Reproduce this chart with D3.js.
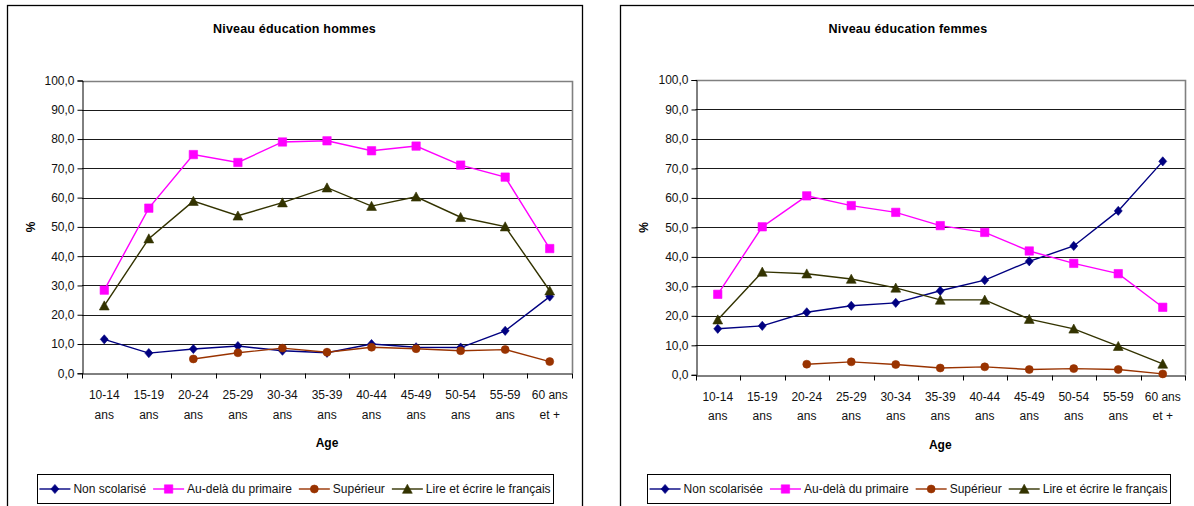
<!DOCTYPE html>
<html>
<head>
<meta charset="utf-8">
<script src="https://cdn.jsdelivr.net/npm/d3@7"></script>
<style>
  html, body { margin: 0; padding: 0; background: #fff; }
  svg { display: block; font-family: "Liberation Sans", Arial, sans-serif; }
</style>
</head>
<body>
<svg id="chart" width="1194" height="506"></svg>
<script>
// Age groups (two-line labels)
const ageGroups = ["10-14 ans", "15-19 ans", "20-24 ans", "25-29 ans", "30-34 ans", "35-39 ans",
                   "40-44 ans", "45-49 ans", "50-54 ans", "55-59 ans", "60 ans et +"];
const ageLabelLines = [["10-14", "ans"], ["15-19", "ans"], ["20-24", "ans"], ["25-29", "ans"],
                       ["30-34", "ans"], ["35-39", "ans"], ["40-44", "ans"], ["45-49", "ans"],
                       ["50-54", "ans"], ["55-59", "ans"], ["60 ans", "et +"]];
const yTicks = [0, 10, 20, 30, 40, 50, 60, 70, 80, 90, 100];

// Men (%)
const menNonScolarise = [11.6, 6.9, 8.3, 9.3, 7.7, 7.0, 10.0, 8.9, 8.8, 14.5, 26.2];
const menAuDelaPrimaire = [28.4, 56.4, 74.7, 72.0, 79.0, 79.4, 76.0, 77.6, 71.1, 67.0, 42.6];
const menSuperieur = [null, null, 4.9, 7.0, 8.6, 7.2, 8.9, 8.4, 7.7, 8.1, 4.0];
const menLireEcrire = [23.1, 46.0, 58.8, 53.8, 58.3, 63.4, 57.1, 60.3, 53.3, 50.1, 28.2];

// Women (%)
const womenNonScolarisee = [15.6, 16.6, 21.2, 23.4, 24.4, 28.5, 32.1, 38.5, 43.7, 55.6, 72.4];
const womenAuDelaPrimaire = [27.3, 50.2, 60.7, 57.4, 55.1, 50.6, 48.3, 42.0, 37.8, 34.3, 22.9];
const womenSuperieur = [null, null, 3.6, 4.4, 3.5, 2.3, 2.7, 1.8, 2.1, 1.8, 0.3];
const womenLireEcrire = [18.7, 34.9, 34.3, 32.5, 29.5, 25.4, 25.4, 18.9, 15.6, 9.7, 3.7];

const seriesStyle = {
  nonScol: { color: "#000080", marker: "diamond" },
  primaire: { color: "#FF00FF", marker: "square" },
  superieur: { color: "#993300", marker: "circle" },
  lire: { color: "#333300", marker: "triangle" }
};

const charts = [
  {
    title: "Niveau éducation hommes",
    box: [7, 5, 575, 510],
    plot: { left: 82, right: 572, top: 80.5, bottom: 373.3 },
    legend: { x: 37, y: 474, w: 516, h: 29 },
    series: [
      { name: "Non scolarisé", values: menNonScolarise, style: seriesStyle.nonScol },
      { name: "Au-delà du primaire", values: menAuDelaPrimaire, style: seriesStyle.primaire },
      { name: "Supérieur", values: menSuperieur, style: seriesStyle.superieur },
      { name: "Lire et écrire le français", values: menLireEcrire, style: seriesStyle.lire }
    ]
  },
  {
    title: "Niveau éducation femmes",
    box: [620, 5, 576, 510],
    plot: { left: 695.5, right: 1185, top: 80, bottom: 374.8 },
    legend: { x: 647, y: 474, w: 523, h: 29 },
    series: [
      { name: "Non scolarisée", values: womenNonScolarisee, style: seriesStyle.nonScol },
      { name: "Au-delà du primaire", values: womenAuDelaPrimaire, style: seriesStyle.primaire },
      { name: "Supérieur", values: womenSuperieur, style: seriesStyle.superieur },
      { name: "Lire et écrire le français", values: womenLireEcrire, style: seriesStyle.lire }
    ]
  }
];

const svg = d3.select("#chart");
const FONT = 12;

// marker shapes, centred on their bounding box
const markerPath = {
  diamond: "M0,-4.6L4,0L0,4.6L-4,0Z",
  square: "M-4.2,-4.2H4.2V4.2H-4.2Z",
  circle: d3.symbol().type(d3.symbolCircle).size(50)(),
  triangle: "M0,-4.8L4.9,4.3H-4.9Z"
};

function drawMarker(sel, style) {
  sel.append("path")
    .attr("d", markerPath[style.marker])
    .attr("fill", style.color)
    .attr("stroke", style.color)
    .attr("stroke-width", 0.6);
}

function drawChart(cfg) {
  const g = svg.append("g");
  const [bx, by, bw, bh] = cfg.box;
  const p = cfg.plot;

  g.append("rect")
    .attr("x", bx + 0.5).attr("y", by + 0.5)
    .attr("width", bw).attr("height", bh)
    .attr("fill", "#fff").attr("stroke", "#000").attr("stroke-width", 1.3);

  g.append("text")
    .attr("x", bx + bw / 2).attr("y", 33)
    .attr("text-anchor", "middle")
    .attr("font-size", 12.5).attr("font-weight", "bold")
    .attr("letter-spacing", 0.2)
    .text(cfg.title);

  const x = d3.scaleBand().domain(ageGroups).range([p.left, p.right]);
  const y = d3.scaleLinear().domain([0, 100]).range([p.bottom, p.top]);

  // horizontal gridlines
  g.append("g").selectAll("line")
    .data(yTicks.filter(t => t > 0 && t < 100))
    .join("line")
    .attr("x1", p.left).attr("x2", p.right)
    .attr("y1", d => Math.round(y(d)) + 0.5).attr("y2", d => Math.round(y(d)) + 0.5)
    .attr("stroke", "#1a1a1a").attr("stroke-width", 1);

  // plot-area border (top / right)
  g.append("path")
    .attr("d", `M${p.left},${Math.round(y(100)) + 0.5}H${Math.round(p.right) + 0.5}V${p.bottom}`)
    .attr("fill", "none").attr("stroke", "#808080").attr("stroke-width", 1.6);

  // y axis
  const yAxis = d3.axisLeft(y)
    .tickValues(yTicks)
    .tickSize(5)
    .tickPadding(3)
    .tickFormat(d => d.toFixed(1).replace(".", ","));
  const ya = g.append("g")
    .attr("transform", `translate(${Math.round(p.left) + 0.5},0)`)
    .call(yAxis);
  ya.select(".domain").attr("stroke", "#000");
  ya.selectAll(".tick line").attr("stroke", "#000");
  ya.selectAll(".tick text")
    .attr("font-family", "'Liberation Sans', Arial, sans-serif")
    .attr("font-size", FONT).attr("fill", "#111");

  // x axis
  const xAxis = d3.axisBottom(x).tickSize(0).tickFormat("");
  const xa = g.append("g")
    .attr("transform", `translate(0,${Math.round(p.bottom) + 0.5})`)
    .call(xAxis);
  xa.select(".domain").attr("stroke", "#000");
  // tick marks at category boundaries
  const boundaries = ageGroups.map(a => x(a)).concat([p.right]);
  xa.selectAll(".bound").data(boundaries).join("line")
    .attr("class", "bound")
    .attr("x1", d => Math.round(d) + 0.5).attr("x2", d => Math.round(d) + 0.5)
    .attr("y1", 0).attr("y2", 5)
    .attr("stroke", "#000");
  // two-line category labels
  const lab = g.append("g").selectAll("text")
    .data(ageGroups)
    .join("text")
    .attr("x", d => x(d) + x.bandwidth() / 2)
    .attr("text-anchor", "middle")
    .attr("font-size", FONT).attr("fill", "#111");
  lab.append("tspan")
    .attr("x", d => x(d) + x.bandwidth() / 2)
    .attr("y", p.bottom + 26)
    .text((d, i) => ageLabelLines[i][0]);
  lab.append("tspan")
    .attr("x", d => x(d) + x.bandwidth() / 2)
    .attr("y", p.bottom + 45.5)
    .text((d, i) => ageLabelLines[i][1]);

  // axis titles
  g.append("text")
    .attr("x", (p.left + p.right) / 2).attr("y", p.bottom + 74)
    .attr("text-anchor", "middle")
    .attr("font-size", FONT).attr("font-weight", "bold")
    .text("Age");
  g.append("text")
    .attr("transform", `translate(${bx + 28},${(p.top + p.bottom) / 2}) rotate(-90)`)
    .attr("text-anchor", "middle")
    .attr("font-size", FONT).attr("font-weight", "bold")
    .text("%");

  // series
  const line = d3.line()
    .defined(d => d.v !== null)
    .x(d => x(d.a) + x.bandwidth() / 2)
    .y(d => y(d.v));

  cfg.series.forEach(s => {
    const pts = ageGroups.map((a, i) => ({ a, v: s.values[i] }));
    g.append("path")
      .datum(pts)
      .attr("d", line)
      .attr("fill", "none")
      .attr("stroke", s.style.color)
      .attr("stroke-width", 1.4);
    g.append("g").selectAll("g")
      .data(pts.filter(d => d.v !== null))
      .join("g")
      .attr("transform", d => `translate(${x(d.a) + x.bandwidth() / 2},${y(d.v)})`)
      .each(function () { drawMarker(d3.select(this), s.style); });
  });

  // legend
  const L = cfg.legend;
  const lg = g.append("g");
  lg.append("rect")
    .attr("x", L.x + 0.5).attr("y", L.y + 0.5)
    .attr("width", L.w).attr("height", L.h)
    .attr("fill", "#fff").attr("stroke", "#000").attr("stroke-width", 1);
  const items = lg.selectAll("g.item").data(cfg.series).join("g").attr("class", "item");
  const lineLen = 31, textGap = 3, itemGap = 7;
  items.append("text")
    .attr("font-size", FONT).attr("fill", "#111")
    .attr("dy", "0.35em")
    .text(d => d.name);
  const widths = [];
  items.select("text").each(function () { widths.push(this.getComputedTextLength()); });
  const total = d3.sum(widths) + cfg.series.length * (lineLen + textGap) + (cfg.series.length - 1) * itemGap;
  let cx = L.x + (L.w - total) / 2;
  const cy = L.y + L.h / 2 + 0.5;
  items.each(function (d, i) {
    const it = d3.select(this);
    it.append("line")
      .attr("x1", cx).attr("x2", cx + lineLen)
      .attr("y1", cy).attr("y2", cy)
      .attr("stroke", d.style.color).attr("stroke-width", 1.4);
    const m = it.append("g").attr("transform", `translate(${cx + lineLen / 2},${cy})`);
    drawMarker(m, d.style);
    it.select("text").attr("x", cx + lineLen + textGap).attr("y", cy);
    cx += lineLen + textGap + widths[i] + itemGap;
  });
}

charts.forEach(drawChart);
</script>
</body>
</html>
